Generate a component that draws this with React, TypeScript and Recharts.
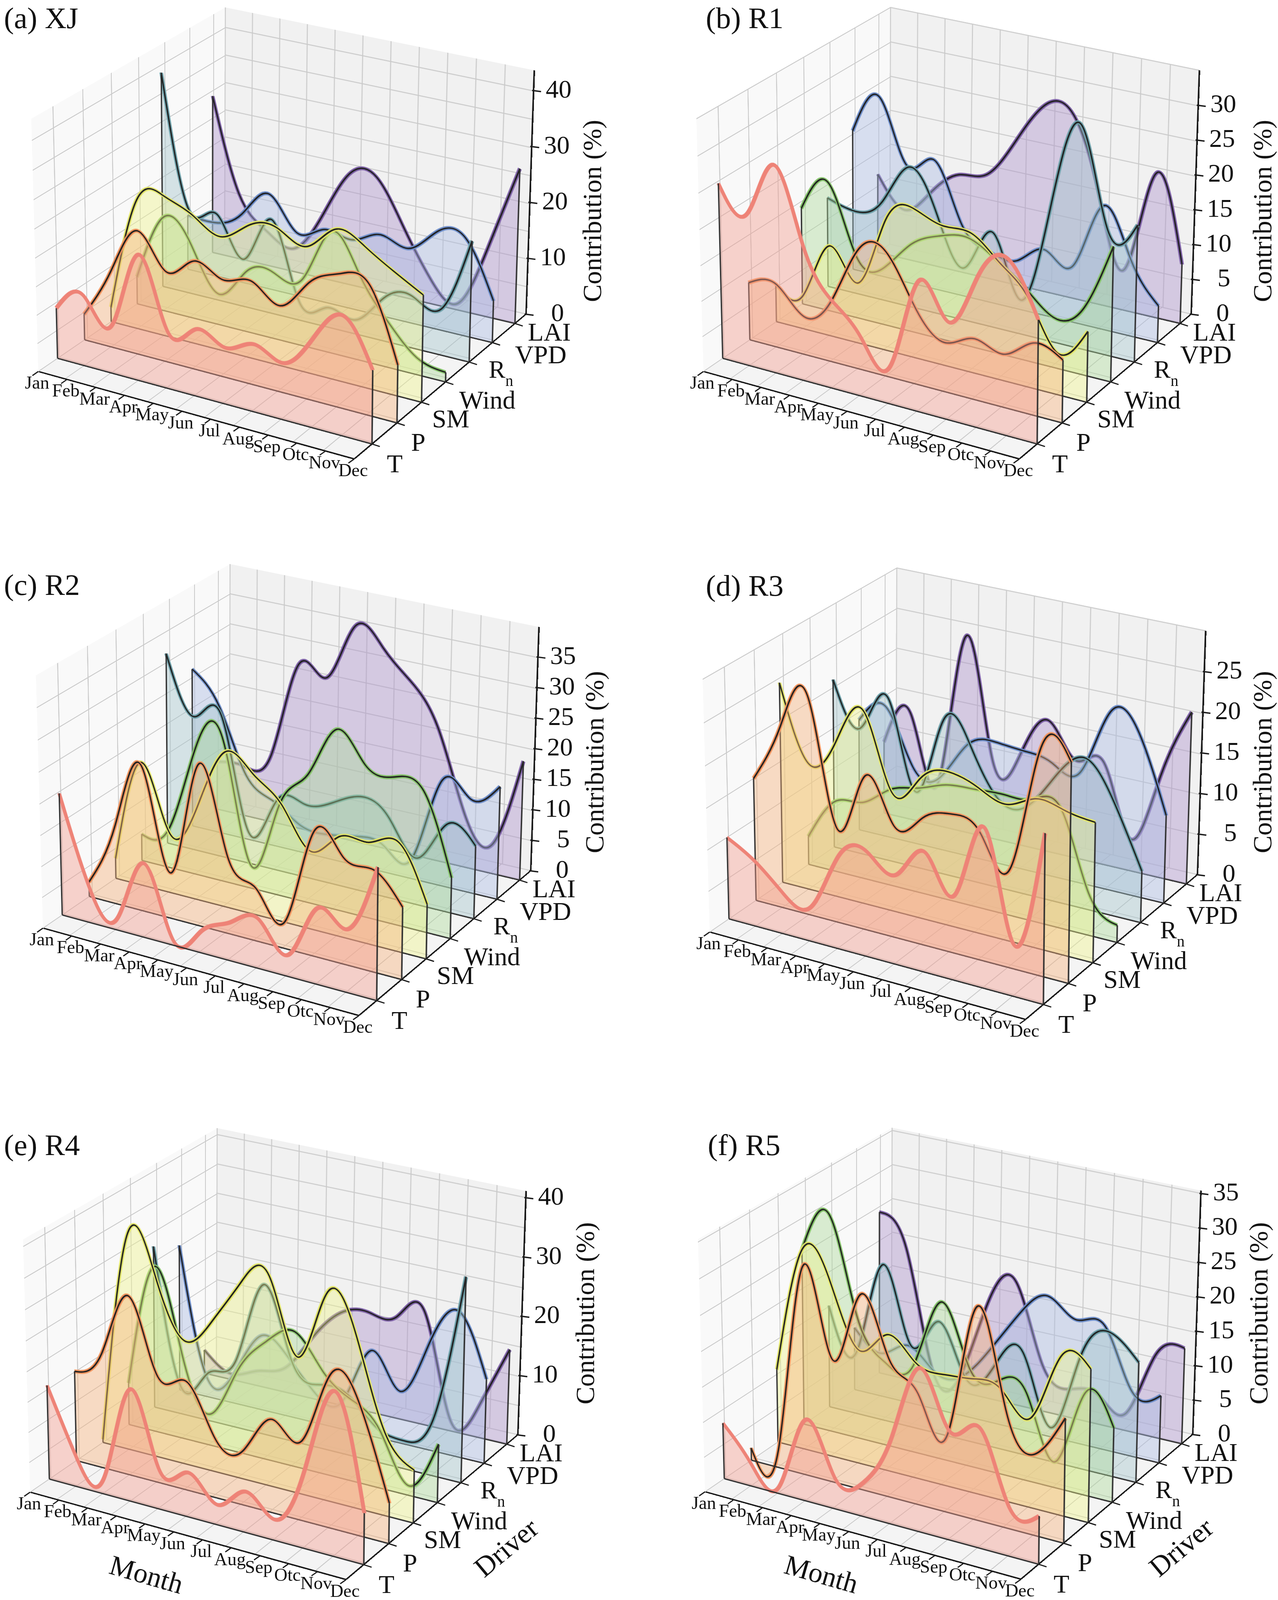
import React from "react";
import { ComposedChart, Area, Line, XAxis, YAxis, ReferenceLine } from "recharts";

const MONTHS = ["Jan", "Feb", "Mar", "Apr", "May", "Jun", "Jul", "Aug", "Sep", "Otc", "Nov", "Dec"];
const DRIVERS = ["T", "P", "SM", "Wind", "Rn", "VPD", "LAI"];

// (a) XJ
const XJ_T = [8.9, 12.4, 8.4, 22.0, 9.9, 11.7, 9.8, 11.7, 9.8, 15.3, 20.5, 12.6];
const XJ_P = [4.6, 13.4, 21.8, 15.9, 19.0, 17.0, 18.0, 15.0, 20.3, 23.0, 22.6, 10.0];
const XJ_SM = [2.6, 23.0, 24.8, 22.7, 20.1, 23.3, 24.0, 22.0, 26.2, 24.5, 21.4, 18.6];
const XJ_WIND = [4.9, 16.9, 13.2, 5.5, 10.8, 11.7, 11.9, 21.5, 15.0, 8.0, 3.0, 1.7];
const XJ_RN = [38.6, 15.0, 15.6, 8.6, 16.9, 3.3, 3.5, 2.5, 7.7, 9.2, 8.2, 21.4];
const XJ_VPD = [10.0, 9.8, 12.5, 17.3, 11.5, 13.2, 12.5, 14.6, 13.3, 17.5, 17.4, 7.5];
const XJ_LAI = [28.9, 11.9, 6.4, 4.2, 10.9, 20.1, 20.7, 12.7, 4.4, 1.3, 12.8, 27.8];

// (b) R1
const R1_T = [24.6, 21.3, 29.0, 18.7, 12.2, 8.1, 5.3, 18.1, 13.5, 20.8, 24.0, 16.9];
const R1_P = [8.2, 9.0, 5.4, 8.7, 17.0, 17.2, 10.4, 6.9, 8.5, 7.4, 10.0, 8.7];
const R1_SM = [5.5, 4.8, 12.9, 8.6, 18.5, 21.0, 19.6, 19.5, 16.3, 12.3, 5.8, 9.9];
const R1_WIND = [13.9, 18.5, 8.9, 8.2, 12.6, 14.7, 15.4, 13.2, 10.3, 7.1, 9.2, 19.0];
const R1_RN = [13.0, 12.0, 14.2, 20.2, 14.3, 7.6, 13.6, 4.9, 19.0, 31.6, 17.6, 19.4];
const R1_VPD = [20.4, 26.1, 17.1, 18.8, 10.4, 7.4, 7.0, 9.5, 8.2, 17.7, 11.0, 5.3];
const R1_LAI = [11.7, 7.3, 10.9, 14.3, 15.2, 20.7, 26.8, 27.0, 16.5, 6.0, 20.7, 8.6];

// (c) R2
const R2_T = [19.6, 5.9, 1.8, 11.9, 0.8, 3.5, 6.1, 7.8, 3.4, 12.0, 9.9, 20.7];
const R2_P = [2.4, 12.8, 23.2, 7.4, 25.8, 12.4, 8.4, 4.3, 19.8, 16.8, 16.1, 11.4];
const R2_SM = [3.3, 20.1, 9.7, 15.1, 25.0, 22.5, 18.7, 12.5, 16.0, 16.2, 17.4, 8.7];
const R2_WIND = [4.4, 6.3, 20.7, 23.1, 3.7, 14.7, 20.7, 29.0, 24.4, 23.6, 22.5, 9.8];
const R2_RN = [31.4, 22.1, 23.4, 5.1, 11.4, 12.0, 13.3, 15.4, 13.0, 7.6, 14.2, 11.8];
const R2_VPD = [26.3, 21.1, 10.6, 7.4, 4.4, 4.0, 4.8, 4.3, 3.4, 17.3, 15.3, 18.4];
const R2_LAI = [8.1, 8.4, 11.2, 27.5, 26.2, 35.6, 33.1, 28.6, 22.0, 8.9, 4.8, 19.6];

// (d) R3
const R3_T = [9.9, 7.9, 4.9, 4.2, 11.2, 12.5, 10.7, 14.2, 10.1, 18.8, 6.1, 19.9];
const R3_P = [14.9, 21.9, 26.3, 11.3, 18.5, 13.4, 15.2, 16.5, 15.0, 11.8, 26.7, 25.8];
const R3_SM = [24.4, 15.5, 18.8, 23.4, 14.4, 16.9, 18.5, 17.5, 16.3, 17.8, 17.2, 16.7];
const R3_WIND = [3.5, 8.7, 9.4, 11.8, 12.8, 14.0, 14.3, 14.5, 14.7, 14.5, 5.1, 2.1];
const R3_RN = [20.9, 15.7, 20.2, 9.4, 19.0, 16.4, 10.8, 10.9, 15.5, 18.3, 13.8, 6.3];
const R3_VPD = [13.9, 16.3, 9.5, 9.1, 14.0, 15.0, 14.7, 14.0, 13.7, 21.8, 20.0, 10.8];
const R3_LAI = [9.1, 13.4, 5.3, 24.6, 10.0, 11.3, 16.4, 12.2, 12.7, 4.0, 12.7, 21.2];

// (e) R4
const R4_T = [15.6, 5.0, 2.7, 18.5, 6.3, 7.3, 3.3, 6.7, 3.4, 12.7, 26.4, 8.3];
const R4_P = [15.0, 19.1, 29.6, 17.6, 18.0, 9.9, 9.0, 15.3, 12.9, 25.0, 20.9, 6.6];
const R4_SM = [0.5, 35.9, 29.9, 20.6, 24.9, 32.2, 34.4, 22.4, 34.0, 27.9, 13.5, 8.7];
const R4_WIND = [7.1, 27.9, 13.8, 5.3, 14.0, 19.8, 22.5, 17.0, 13.5, 9.5, 1.6, 9.7];
const R4_RN = [27.5, 4.5, 8.2, 11.4, 25.3, 13.7, 10.7, 10.2, 5.9, 4.7, 9.5, 34.0];
const R4_VPD = [25.0, 3.5, 4.9, 12.7, 10.1, 5.0, 5.0, 14.6, 8.8, 18.0, 24.4, 14.2];
const R4_LAI = [4.1, 1.0, 2.6, 4.2, 10.6, 15.9, 17.1, 17.3, 19.3, 1.8, 5.5, 16.1];

// (f) R5
const R5_T = [8.0, 3.2, 1.0, 11.6, 4.4, 4.8, 12.2, 22.8, 15.1, 16.7, 6.8, 6.7];
const R5_P = [1.8, 2.5, 29.7, 17.5, 27.5, 19.5, 15.7, 10.8, 29.6, 16.6, 11.4, 17.4];
const R5_SM = [10.6, 28.8, 24.9, 16.3, 19.5, 16.5, 15.8, 16.2, 15.6, 12.7, 22.3, 21.5];
const R5_WIND = [25.5, 31.4, 17.5, 12.0, 12.5, 22.6, 14.1, 13.3, 12.5, 3.7, 14.5, 10.6];
const R5_RN = [15.0, 9.0, 22.8, 12.0, 16.4, 9.0, 11.9, 14.8, 4.9, 16.1, 20.5, 17.2];
const R5_VPD = [9.3, 6.4, 8.5, 5.4, 5.9, 10.9, 16.9, 20.4, 17.9, 18.0, 9.4, 9.8];
const R5_LAI = [24.1, 19.6, 2.2, 2.2, 14.2, 18.3, 6.9, 4.2, 4.4, 2.5, 12.1, 14.0];

const STROKES = ["#ee8377", "#f2955f", "#e3e66b", "#86c46b", "#6ea1aa", "#6f8fcb", "#7f62a8"];
const FILLS = ["#f39a8d", "#f6b07a", "#eef28a", "#acd898", "#a3c4ca", "#aab9e3", "#ab92cb"];
const EDGE = "#2b2b2b";
const GRID = "#cacaca";
const INK = "#111111";
const FONT = "'Liberation Serif', 'Times New Roman', serif";

type Pt = [number, number];

// depth range of the box (drivers sit at 0..6)
const D_MIN = -0.7;
const D_MAX = 6.5;

// projected corners of the 3D box for panel (a); other panels are shifted copies
const BOX = {
  f0b: [98, 951] as Pt,
  f1b: [907, 1175] as Pt,
  b0b: [575, 625] as Pt,
  b1b: [1347, 804] as Pt,
  f0t: [80, 304] as Pt,
  f1t: [912, 502] as Pt,
  b0t: [577, 19] as Pt,
  b1t: [1368, 180] as Pt,
};

// u: month fraction, w: depth fraction, t: height fraction
function proj(off: Pt, u: number, w: number, t: number): Pt {
  const mix = (a: Pt, b: Pt, c: Pt, d: Pt): Pt => [
    (1 - u) * (1 - w) * a[0] + u * (1 - w) * b[0] + (1 - u) * w * c[0] + u * w * d[0],
    (1 - u) * (1 - w) * a[1] + u * (1 - w) * b[1] + (1 - u) * w * c[1] + u * w * d[1],
  ];
  const lo = mix(BOX.f0b, BOX.f1b, BOX.b0b, BOX.b1b);
  const hi = mix(BOX.f0t, BOX.f1t, BOX.b0t, BOX.b1t);
  return [off[0] + lo[0] + (hi[0] - lo[0]) * t, off[1] + lo[1] + (hi[1] - lo[1]) * t];
}

// slight foreshortening: driver rows get closer together towards the back
const depthFrac = (d: number) => {
  const s = (d - D_MIN) / (D_MAX - D_MIN);
  return s + 0.07 * s * (1 - s);
};
const depthCoord = (d: number) => D_MIN + depthFrac(d) * (D_MAX - D_MIN);

// css matrix3d that pins a W x H box onto quad [tl, tr, br, bl]
function pinMatrix(W: number, H: number, q: Pt[]): string {
  const [[x0, y0], [x1, y1], [x2, y2], [x3, y3]] = q;
  const dx1 = x1 - x2, dx2 = x3 - x2, dx3 = x0 - x1 + x2 - x3;
  const dy1 = y1 - y2, dy2 = y3 - y2, dy3 = y0 - y1 + y2 - y3;
  let g = 0;
  let h = 0;
  if (Math.abs(dx3) > 1e-9 || Math.abs(dy3) > 1e-9) {
    const det = dx1 * dy2 - dx2 * dy1;
    g = (dx3 * dy2 - dx2 * dy3) / det;
    h = (dx1 * dy3 - dx3 * dy1) / det;
  }
  const a = x1 - x0 + g * x1;
  const b = x3 - x0 + h * x3;
  const d = y1 - y0 + g * y1;
  const e = y3 - y0 + h * y3;
  const n = (v: number) => v.toFixed(10);
  return `matrix3d(${n(a / W)},${n(d / W)},0,${n(g / W)},${n(b / H)},${n(e / H)},0,${n(h / H)},0,0,1,0,${n(x0)},${n(y0)},0,1)`;
}

type PanelDef = {
  title: string;
  series: number[][];
  zmax: number;
  zTicks: number[];
  off: Pt;
  titleAt: Pt;
  labelAt: Pt;
  names?: boolean;
};

const PANELS: PanelDef[] = [
  { title: "(a) XJ", series: [XJ_T, XJ_P, XJ_SM, XJ_WIND, XJ_RN, XJ_VPD, XJ_LAI], zmax: 43.6, zTicks: [0, 10, 20, 30, 40], off: [0, 0], titleAt: [8, 72], labelAt: [1516, 540] },
  { title: "(b) R1", series: [R1_T, R1_P, R1_SM, R1_WIND, R1_RN, R1_VPD, R1_LAI], zmax: 35.0, zTicks: [0, 5, 10, 15, 20, 25, 30], off: [1703, 0], titleAt: [1805, 72], labelAt: [3232, 540] },
  { title: "(c) R2", series: [R2_T, R2_P, R2_SM, R2_WIND, R2_RN, R2_VPD, R2_LAI], zmax: 39.9, zTicks: [0, 5, 10, 15, 20, 25, 30, 35], off: [12, 1425], titleAt: [8, 1523], labelAt: [1522, 1951] },
  { title: "(d) R3", series: [R3_T, R3_P, R3_SM, R3_WIND, R3_RN, R3_VPD, R3_LAI], zmax: 30.0, zTicks: [0, 5, 10, 15, 20, 25], off: [1719, 1435], titleAt: [1805, 1525], labelAt: [3232, 1951] },
  { title: "(e) R4", series: [R4_T, R4_P, R4_SM, R4_WIND, R4_RN, R4_VPD, R4_LAI], zmax: 41.1, zTicks: [0, 10, 20, 30, 40], off: [-21, 2869], titleAt: [8, 2957], labelAt: [1498, 3362], names: true },
  { title: "(f) R5", series: [R5_T, R5_P, R5_SM, R5_WIND, R5_RN, R5_VPD, R5_LAI], zmax: 35.4, zTicks: [0, 5, 10, 15, 20, 25, 30, 35], off: [1707, 2868], titleAt: [1810, 2957], labelAt: [3222, 3362], names: true },
];

const MONTH_IDX = MONTHS.map((_, i) => i);
const DRV_IDX = DRIVERS.map((_, i) => i);
const DRV_COORD = DRV_IDX.map(depthCoord);
const ZERO = { top: 0, right: 0, bottom: 0, left: 0 };
// label offsets (left edge, vertical centre) from each driver tick
const DRV_NUDGE: Pt[] = [[38, 50], [36, 49], [27, 42], [35, 46], [50, 18], [58, 31], [33, 22]];

const CW = 800;
const CH = 640;

function Warp({ q, w, h, bg, children }: { q: Pt[]; w: number; h: number; bg?: string; children: React.ReactNode }) {
  return (
    <div
      style={{
        position: "absolute",
        left: 0,
        top: 0,
        width: w,
        height: h,
        background: bg,
        transformOrigin: "0 0",
        transform: pinMatrix(w, h, q),
      }}
    >
      {children}
    </div>
  );
}

function zGrid(zmax: number) {
  const out: number[] = [];
  for (let z = 0; z <= zmax + 1e-6; z += 5) out.push(z);
  return out;
}

function Panes({ p }: { p: PanelDef }) {
  const o = p.off;
  const zs = zGrid(p.zmax);
  const monthRows = MONTH_IDX.map((m) => ({ m, zero: 0 }));
  const depthRows = DRV_IDX.map((d) => ({ d, zero: 0 }));
  const floorQ: Pt[] = [proj(o, 0, 1, 0), proj(o, 1, 1, 0), proj(o, 1, 0, 0), proj(o, 0, 0, 0)];
  const leftQ: Pt[] = [proj(o, 0, 0, 1), proj(o, 0, 1, 1), proj(o, 0, 1, 0), proj(o, 0, 0, 0)];
  const backQ: Pt[] = [proj(o, 0, 1, 1), proj(o, 1, 1, 1), proj(o, 1, 1, 0), proj(o, 0, 1, 0)];
  return (
    <>
      <Warp q={floorQ} w={800} h={560} bg="#f4f4f4">
        <ComposedChart width={800} height={560} data={monthRows} margin={ZERO}>
          <XAxis dataKey="m" type="number" domain={[0, 11]} hide />
          <YAxis type="number" domain={[D_MIN, D_MAX]} hide />
          <Line dataKey="zero" stroke="transparent" dot={false} activeDot={false} isAnimationActive={false} />
          {MONTH_IDX.map((m) => (
            <ReferenceLine key={"fm" + m} x={m} stroke={GRID} strokeWidth={2.5} ifOverflow="visible" />
          ))}
          {DRV_COORD.map((d, i) => (
            <ReferenceLine key={"fd" + i} y={d} stroke={GRID} strokeWidth={2.5} ifOverflow="visible" />
          ))}
          <ReferenceLine segment={[{ x: 0, y: D_MIN }, { x: 11, y: D_MIN }]} stroke="#1a1a1a" strokeWidth={4} ifOverflow="visible" />
          <ReferenceLine segment={[{ x: 11, y: D_MIN }, { x: 11, y: D_MAX }]} stroke="#1a1a1a" strokeWidth={4} ifOverflow="visible" />
        </ComposedChart>
      </Warp>
      <Warp q={leftQ} w={560} h={640} bg="#f9f9f9">
        <ComposedChart width={560} height={640} data={depthRows} margin={ZERO}>
          <XAxis dataKey="d" type="number" domain={[D_MIN, D_MAX]} hide />
          <YAxis type="number" domain={[0, p.zmax]} hide />
          <Line dataKey="zero" stroke="transparent" dot={false} activeDot={false} isAnimationActive={false} />
          {DRV_COORD.map((d, i) => (
            <ReferenceLine key={"ld" + i} x={d} stroke={GRID} strokeWidth={2.5} ifOverflow="visible" />
          ))}
          {zs.map((z) => (
            <ReferenceLine key={"lz" + z} y={z} stroke={GRID} strokeWidth={2.5} ifOverflow="visible" />
          ))}
        </ComposedChart>
      </Warp>
      <Warp q={backQ} w={780} h={620} bg="#f1f1f1">
        <ComposedChart width={780} height={620} data={monthRows} margin={ZERO}>
          <XAxis dataKey="m" type="number" domain={[0, 11]} hide />
          <YAxis type="number" domain={[0, p.zmax]} hide />
          <Line dataKey="zero" stroke="transparent" dot={false} activeDot={false} isAnimationActive={false} />
          {MONTH_IDX.map((m) => (
            <ReferenceLine key={"bm" + m} x={m} stroke={GRID} strokeWidth={2.5} ifOverflow="visible" />
          ))}
          {zs.map((z) => (
            <ReferenceLine key={"bz" + z} y={z} stroke={GRID} strokeWidth={2.5} ifOverflow="visible" />
          ))}
          <ReferenceLine segment={[{ x: 11, y: 0 }, { x: 11, y: p.zmax }]} stroke="#1a1a1a" strokeWidth={4} ifOverflow="visible" />
        </ComposedChart>
      </Warp>
    </>
  );
}

function Curtain({ p, k }: { p: PanelDef; k: number }) {
  const vals = p.series[k];
  const w = depthFrac(k);
  const q: Pt[] = [proj(p.off, 0, w, 1), proj(p.off, 1, w, 1), proj(p.off, 1, w, 0), proj(p.off, 0, w, 0)];
  const rows = vals.map((v, m) => ({ m, v }));
  return (
    <Warp q={q} w={CW} h={CH}>
      <ComposedChart width={CW} height={CH} data={rows} margin={ZERO}>
        <XAxis dataKey="m" type="number" domain={[0, 11]} hide />
        <YAxis type="number" domain={[0, p.zmax]} hide />
        <Area
          type="natural"
          dataKey="v"
          baseValue={0}
          stroke={STROKES[k]}
          strokeWidth={10}
          fill={FILLS[k]}
          fillOpacity={0.42}
          dot={false}
          activeDot={false}
          isAnimationActive={false}
        />
        {k > 0 && (
          <Line type="natural" dataKey="v" stroke="#1e1e1e" strokeWidth={3.6} dot={false} activeDot={false} isAnimationActive={false} />
        )}
        <ReferenceLine segment={[{ x: 0, y: 0 }, { x: 0, y: vals[0] }]} stroke={EDGE} strokeWidth={3.5} ifOverflow="visible" />
        <ReferenceLine segment={[{ x: 11, y: 0 }, { x: 11, y: vals[11] }]} stroke={EDGE} strokeWidth={3.5} ifOverflow="visible" />
        <ReferenceLine segment={[{ x: 0, y: 0 }, { x: 11, y: 0 }]} stroke={EDGE} strokeWidth={3.5} ifOverflow="visible" />
      </ComposedChart>
    </Warp>
  );
}

// month tick labels along the front edge of the floor
function MonthAxis({ p }: { p: PanelDef }) {
  const a = proj(p.off, 0, 0, 0);
  const b = proj(p.off, 1, 0, 0);
  const L = Math.floor(a[0] - 70);
  const T = Math.floor(a[1] - 20);
  const W = Math.ceil(b[0] - L + 70);
  const H = Math.ceil(b[1] - T + 90);
  const rows = MONTH_IDX.map((m) => ({ m, zero: 0 }));
  const ax = a[0] - L, ay = a[1] - T, bx = b[0] - L, by = b[1] - T;
  const tick = (props: any) => {
    const { x, payload } = props;
    const t = (x - ax) / (bx - ax);
    const y = ay + t * (by - ay);
    return (
      <g>
        <line x1={x} y1={y} x2={x - 15} y2={y + 10.5} stroke="#1a1a1a" strokeWidth={3} />
        <text x={x - 3} y={y + 44} textAnchor="middle" fontSize={47} fontFamily={FONT} fill={INK}>
          {MONTHS[payload.value]}
        </text>
      </g>
    );
  };
  return (
    <div style={{ position: "absolute", left: L, top: T }}>
      <ComposedChart width={W} height={H} data={rows} margin={{ top: 0, bottom: 0, left: ax, right: W - bx }}>
        <XAxis dataKey="m" type="number" domain={[0, 11]} ticks={MONTH_IDX} interval={0} tick={tick} axisLine={false} tickLine={false} height={30} />
        <YAxis hide domain={[0, 1]} />
        <Line dataKey="zero" stroke="transparent" dot={false} activeDot={false} isAnimationActive={false} />
      </ComposedChart>
    </div>
  );
}

// driver tick labels along the right edge of the floor
function DriverAxis({ p }: { p: PanelDef }) {
  const a = proj(p.off, 1, 0, 0);
  const b = proj(p.off, 1, 1, 0);
  const L = Math.floor(a[0] - 30);
  const T = Math.floor(b[1] - 40);
  const W = Math.ceil(b[0] - L + 240);
  const H = Math.ceil(a[1] - T + 110);
  const rows = DRV_IDX.map((d) => ({ d, zero: 0 }));
  const ax = a[0] - L, ay = a[1] - T, bx = b[0] - L, by = b[1] - T;
  const tick = (props: any) => {
    const { x, index } = props;
    const t = (x - ax) / (bx - ax);
    const y = ay + t * (by - ay);
    const k = index as number;
    const [dx, dy] = DRV_NUDGE[k];
    const base = y + dy + 22;
    return (
      <g>
        <line x1={x} y1={y} x2={x + 20} y2={y + 6.5} stroke="#1a1a1a" strokeWidth={3} />
        {DRIVERS[k] === "Rn" ? (
          <text x={x + dx} y={base} fontSize={64} fontFamily={FONT} fill={INK}>
            R
            <tspan fontSize={40} dy={21}>
              n
            </tspan>
          </text>
        ) : (
          <text x={x + dx} y={base} fontSize={66} fontFamily={FONT} fill={INK}>
            {DRIVERS[k]}
          </text>
        )}
      </g>
    );
  };
  return (
    <div style={{ position: "absolute", left: L, top: T }}>
      <ComposedChart width={W} height={H} data={rows} margin={{ top: 0, bottom: 0, left: ax, right: W - bx }}>
        <XAxis dataKey="d" type="number" domain={[D_MIN, D_MAX]} ticks={DRV_COORD} interval={0} tick={tick} axisLine={false} tickLine={false} height={30} />
        <YAxis hide domain={[0, 1]} />
        <Line dataKey="zero" stroke="transparent" dot={false} activeDot={false} isAnimationActive={false} />
      </ComposedChart>
    </div>
  );
}

// contribution ticks on the back-right vertical edge
function ZAxis({ p }: { p: PanelDef }) {
  const a = proj(p.off, 1, 1, 0);
  const b = proj(p.off, 1, 1, 1);
  const L = Math.floor(Math.min(a[0], b[0]) - 20);
  const T = Math.floor(b[1] - 40);
  const W = 220;
  const H = Math.ceil(a[1] - T + 40);
  const rows = MONTH_IDX.map((m) => ({ m, zero: 0 }));
  const ax = a[0] - L, ay = a[1] - T, bx = b[0] - L, by = b[1] - T;
  const tick = (props: any) => {
    const { y, payload } = props;
    const t = (ay - y) / (ay - by);
    const x = ax + t * (bx - ax);
    return (
      <g>
        <line x1={x - 4} y1={y} x2={x + 19} y2={y + 3} stroke="#1a1a1a" strokeWidth={3.5} />
        <text x={x + 97} y={y + 18} textAnchor="end" fontSize={66} fontFamily={FONT} fill={INK}>
          {payload.value}
        </text>
      </g>
    );
  };
  return (
    <div style={{ position: "absolute", left: L, top: T }}>
      <ComposedChart width={W} height={H} data={rows} margin={{ top: by, bottom: H - ay, left: 0, right: 0 }}>
        <XAxis dataKey="m" type="number" domain={[0, 11]} hide />
        <YAxis orientation="right" type="number" domain={[0, p.zmax]} ticks={p.zTicks} interval={0} tick={tick} axisLine={false} tickLine={false} width={60} />
        <Line dataKey="zero" stroke="transparent" dot={false} activeDot={false} isAnimationActive={false} />
      </ComposedChart>
    </div>
  );
}

function Label({ x, y, size, rot = 0, children }: { x: number; y: number; size: number; rot?: number; children: React.ReactNode }) {
  const box = 700;
  return (
    <svg width={box} height={box} style={{ position: "absolute", left: x - box / 2, top: y - box / 2, overflow: "visible" }}>
      <text
        x={box / 2}
        y={box / 2}
        fontSize={size}
        fontFamily={FONT}
        fill={INK}
        textAnchor="middle"
        dominantBaseline="central"
        transform={rot ? `rotate(${rot} ${box / 2} ${box / 2})` : undefined}
      >
        {children}
      </text>
    </svg>
  );
}

function PanelText({ p }: { p: PanelDef }) {
  const [tx, ty] = p.titleAt;
  const [lx, ly] = p.labelAt;
  const top = Math.max(0, ty - 76);
  return (
    <>
      <svg width={380} height={110} style={{ position: "absolute", left: tx, top }}>
        <text x={2} y={ty - top} fontSize={77} fontFamily={FONT} fill={INK}>
          {p.title}
        </text>
      </svg>
      <Label x={lx} y={ly} size={68} rot={-90}>
        Contribution (%)
      </Label>
      {p.names && (
        <>
          <Label x={p.off[0] + 396} y={p.off[1] + 1162} size={72} rot={16}>
            Month
          </Label>
          <Label x={p.off[0] + 1317} y={p.off[1] + 1093} size={72} rot={-40}>
            Driver
          </Label>
        </>
      )}
    </>
  );
}

function Panel({ p }: { p: PanelDef }) {
  const order = [6, 5, 4, 3, 2, 1, 0];
  return (
    <>
      <Panes p={p} />
      {order.map((k) => (
        <Curtain key={k} p={p} k={k} />
      ))}
      <MonthAxis p={p} />
      <DriverAxis p={p} />
      <ZAxis p={p} />
      <PanelText p={p} />
    </>
  );
}

export default function App() {
  return (
    <div style={{ position: "relative", width: 3272, height: 4122, background: "#ffffff", overflow: "hidden" }}>
      <style>{`body{margin:0} .recharts-surface{overflow:visible}`}</style>
      {PANELS.map((p, i) => (
        <Panel key={i} p={p} />
      ))}
    </div>
  );
}
